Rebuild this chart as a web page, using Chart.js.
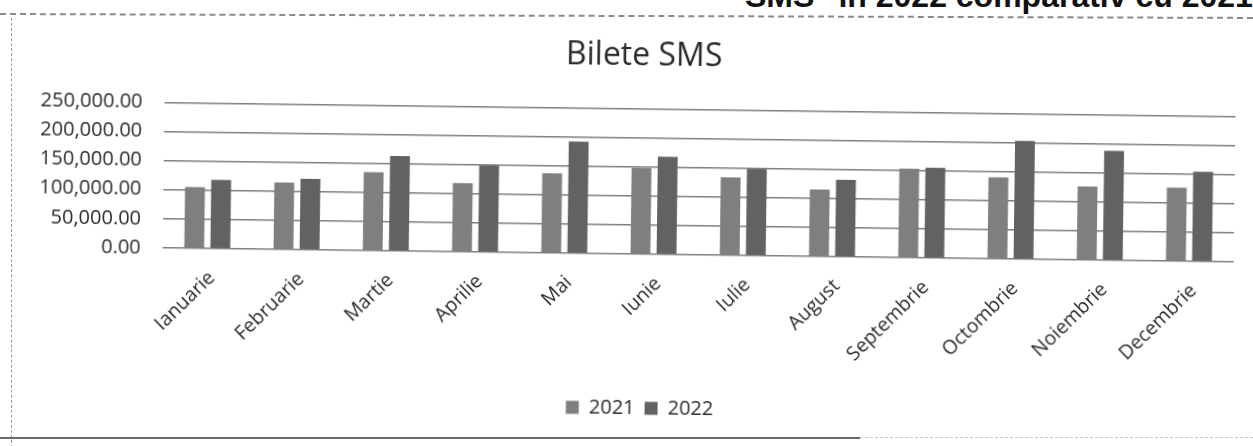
<!DOCTYPE html>
<html>
<head>
<meta charset="utf-8">
<script src="https://cdn.jsdelivr.net/npm/chart.js@4.4.1/dist/chart.umd.min.js"></script>
<style>
  html, body { margin: 0; padding: 0; background: #fff; }
  body { width: 1253px; height: 446px; position: relative; overflow: hidden; }
  #wrap { position: absolute; left: 0; top: 0; width: 1253px; height: 446px; transform: rotate(0.75deg); transform-origin: 626px 223px; }
  #hdr { position: absolute; left: 745px; top: -20px; font: bold 32px "Liberation Sans", Arial, sans-serif; color: #111; white-space: nowrap; line-height: 32px; }
  #topline { position: absolute; left: 0; top: 13px; width: 1253px; height: 0; border-top: 2px dashed #8a8a8a; transform: rotate(0.18deg); transform-origin: 0 0; }
  #leftline { position: absolute; left: 11px; top: 18px; width: 0; height: 430px; border-left: 1px dashed #9a9a9a; }
  #botline { position: absolute; left: 0; top: 437px; width: 860px; height: 0; border-top: 2px solid #6a6a6a; }
  #botline2 { position: absolute; left: 860px; top: 437px; width: 393px; height: 0; border-top: 1px dashed #c8c8c8; }
</style>
</head>
<body>
<div id="hdr">SMS" în 2022 comparativ cu 2021</div>
<div id="topline"></div>
<div id="leftline"></div>
<div id="botline"></div>
<div id="botline2"></div>
<div id="wrap"><canvas id="c" width="1253" height="446"></canvas></div>
<script>
const categories = ["Ianuarie", "Februarie", "Martie", "Aprilie", "Mai", "Iunie", "Iulie", "August", "Septembrie", "Octombrie", "Noiembrie", "Decembrie"];
const seriesNames = ["2021", "2022"];
const values2021 = [105000, 115000, 135000, 118000, 137000, 148000, 134000, 115000, 153000, 140000, 126000, 126000];
const values2022 = [118000, 122000, 163000, 149000, 192000, 168000, 149000, 132000, 155000, 203000, 188000, 154000];
const yTicks = [0, 50000, 100000, 150000, 200000, 250000];
const chartTitle = "Bilete SMS";

const FONT = "'Open Sans', 'Noto Sans', sans-serif";
const fmt = v => Number(v).toLocaleString('en-US', {minimumFractionDigits: 2, maximumFractionDigits: 2});

new Chart(document.getElementById('c'), {
  type: 'bar',
  data: {
    labels: categories,
    datasets: [
      { label: seriesNames[0], data: values2021, backgroundColor: '#7f7f7f', yAxisID: 'y' },
      { label: seriesNames[1], data: values2022, backgroundColor: '#626262', yAxisID: 'y' }
    ]
  },
  options: {
    responsive: false,
    animation: false,
    devicePixelRatio: 1,
    categoryPercentage: 0.585,
    barPercentage: 0.76,
    layout: { padding: { left: 31, right: 0, top: 0, bottom: 18 } },
    plugins: {
      title: {
        display: true, text: chartTitle, color: '#2a2a2a',
        font: { family: FONT, size: 32, weight: 'normal', lineHeight: 1.2 },
        padding: { top: 37, bottom: 33 }
      },
      legend: {
        position: 'bottom',
        labels: {
          color: '#2a2a2a', boxWidth: 13, boxHeight: 13, padding: 10,
          font: { family: FONT, size: 20 }
        }
      },
      tooltip: { enabled: false }
    },
    scales: {
      x: {
        grid: { display: false, drawTicks: false },
        border: { display: false },
        ticks: {
          color: '#2a2a2a', font: { family: FONT, size: 19.5 },
          minRotation: 45, maxRotation: 45, padding: 18, labelOffset: 5, autoSkip: false
        },
        afterFit: s => { s.height = 134; }
      },
      y: {
        position: 'left',
        min: 0, max: 250000,
        afterBuildTicks: s => { s.ticks = yTicks.map(v => ({ value: v })); },
        grid: { color: '#7e7e7e', lineWidth: 1.5, drawTicks: false },
        border: { display: false },
        ticks: {
          color: '#2a2a2a', font: { family: FONT, size: 20 }, padding: 22,
          callback: v => fmt(v)
        },
        afterFit: s => { s.width = 132; }
      },
      yR: {
        position: 'right',
        min: 0, max: 250000,
        grid: { display: false, drawTicks: false },
        border: { display: false },
        ticks: { display: false },
        afterFit: s => { s.width = 19; }
      }
    }
  }
});
</script>
</body>
</html>
